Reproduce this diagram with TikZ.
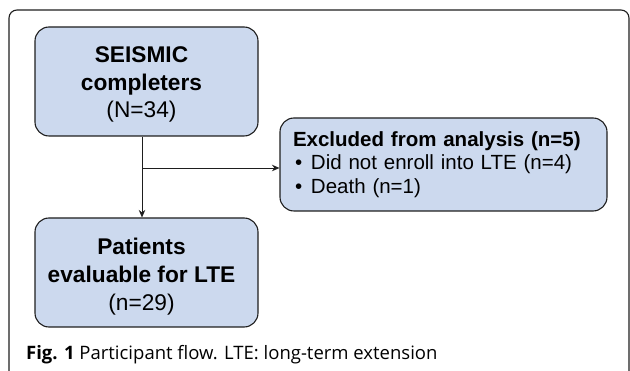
\documentclass[tikz,border=0pt]{standalone}
\usepackage{fontspec}
\setmainfont{Liberation Sans}
\newfontfamily\capfont{Open Sans}
\usetikzlibrary{arrows.meta}
\definecolor{boxfill}{RGB}{204,217,238}
\definecolor{boxline}{RGB}{30,30,30}
\tikzset{
  flowbox/.style={draw=boxline, fill=boxfill, line width=1.1pt, rounded corners=14pt, align=center, inner sep=0pt},
  boxtext/.style={align=center, inner sep=0pt, font=\fontsize{22.7}{27.7}\selectfont},
  conn/.style={draw=boxline, line width=0.9pt},
  connarrow/.style={conn, -{Stealth[length=7.5pt,width=6.5pt]}}
}
\begin{document}
\begin{tikzpicture}[x=1pt,y=-1pt]
\useasboundingbox (0,0) rectangle (630,371);
\begin{scope}
\clip (0,0) rectangle (630,371);
\draw[boxline, line width=1.1pt, rounded corners=8pt] (9,380) -- (9,10) -- (629,10) -- (629,380);
\end{scope}
\node[flowbox, minimum width=223pt, minimum height=109pt] (b1) at (146.5,81.5) {};
\node[boxtext] (t1) at (141.5,84.5) {\textbf{SEISMIC}\\\textbf{completers}\\(N=34)};
\node[flowbox, minimum width=223pt, minimum height=109pt] (b2) at (146.5,272.5) {};
\node[boxtext] (t2) at (141.5,276.5) {\textbf{Patients}\\\textbf{evaluable for LTE}\\(n=29)};
\node[flowbox, minimum width=327pt, minimum height=93pt, align=left, text width=301pt, font=\fontsize{20.5}{23.2}\selectfont] (b3) at (443.5,164.5)
  {\textbf{Excluded from analysis (n=5)}\\\makebox[18pt][l]{\hspace{2pt}•}Did not enroll into LTE (n=4)\\\makebox[18pt][l]{\hspace{2pt}•}Death (n=1)};
\coordinate (split) at (142,168);
\draw[conn] (b1.south -| split) -- (split);
\draw[connarrow] (split) -- (split -| b3.west);
\draw[connarrow] (split) -- (split |- b2.north);
\node[anchor=base west, inner sep=0pt, font=\capfont\fontsize{18.5}{22}\selectfont] (cap) at (26,360)
  {\textbf{Fig. 1} Participant flow. LTE: long-term extension};
\end{tikzpicture}
\end{document}
